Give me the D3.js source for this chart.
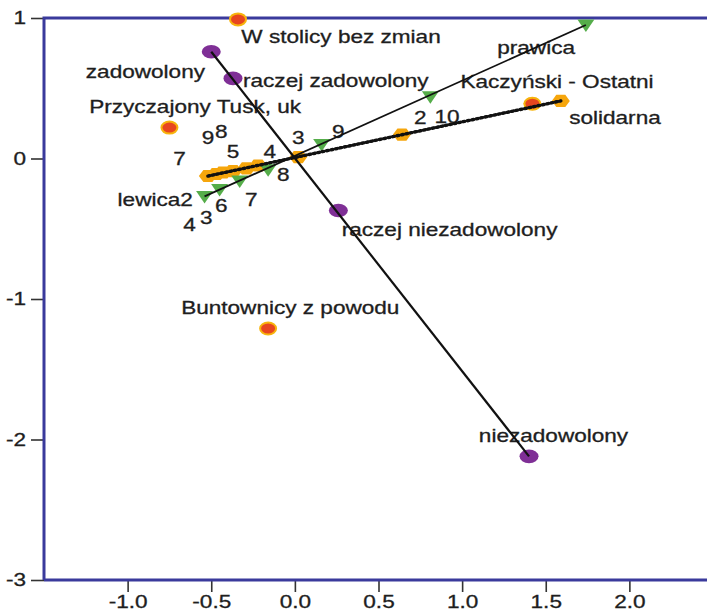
<!DOCTYPE html>
<html>
<head>
<meta charset="utf-8">
<script src="https://cdn.jsdelivr.net/npm/d3@7"></script>
<style>
body { margin: 0; background: #fff; }
.lab { font-family: "Liberation Sans", Arial, sans-serif; font-size: 17.5px; fill: #1e1e1e; stroke: #1e1e1e; stroke-width: 0.3px; }
</style>
</head>
<body>
<div id="chart"></div>
<script>
// satisfaction categories (purple)
var satLabels = ["zadowolony", "raczej zadowolony", "raczej niezadowolony", "niezadowolony"];
var satX = [-0.50, -0.37, 0.26, 1.40];
var satY = [0.76, 0.57, -0.37, -2.12];
var satLabelX = [-1.25, -0.31, 0.28, 1.10];
var satLabelY = [0.62, 0.55, -0.51, -1.975];

// groups (red dots)
var grpLabels = ["W stolicy bez zmian", "Przyczajony Tusk, uk", "Buntownicy z powodu", "Kaczyński - Ostatni"];
var grpX = [-0.34, -0.75, -0.16, 1.42];
var grpY = [0.99, 0.22, -1.21, 0.39];
var grpLabelX = [-0.32, -1.23, -0.68, 0.99];
var grpLabelY = [0.865, 0.37, -1.06, 0.545];

// solidarna scale (orange)
var solX = [-0.52, -0.47, -0.43, -0.37, -0.29, -0.22, 0.02, 0.64, 1.42, 1.59];
var solY = [-0.125, -0.11, -0.10, -0.09, -0.07, -0.05, 0.01, 0.17, 0.39, 0.41];

// lewica - prawica scale (green)
var lpX = [-0.54, -0.45, -0.33, -0.16, 0.16, 0.81, 1.74];
var lpY = [-0.27, -0.22, -0.16, -0.08, 0.10, 0.44, 0.95];

// variable names at line ends
var varLabels = ["solidarna", "prawica", "lewica2"];
var varLabelX = [1.64, 1.21, -1.06];
var varLabelY = [0.29, 0.79, -0.295];

// category numbers
var numLabels = ["9", "8", "7", "5", "4", "3", "9", "2", "10", "8", "7", "6", "3", "4"];
var numX = [-0.52, -0.44, -0.69, -0.37, -0.15, 0.02, 0.26, 0.75, 0.91, -0.07, -0.26, -0.44, -0.53, -0.63];
var numY = [0.145, 0.19, 0.0, 0.05, 0.05, 0.15, 0.19, 0.29, 0.295, -0.12, -0.295, -0.34, -0.42, -0.47];

var xTicks = [-1.0, -0.5, 0.0, 0.5, 1.0, 1.5, 2.0];
var yTicks = [1, 0, -1, -2, -3];

var width = 707, height = 611;
var sx = 1.29; // the original picture is stretched sideways

var svg = d3.select("#chart").append("svg")
  .attr("width", width)
  .attr("height", height);

var x = d3.scaleLinear().domain([-1.5, 2.5]).range([44, 713]);
var y = d3.scaleLinear().domain([-3, 1]).range([580, 18]);

function zip(xs, ys, ls) {
  return xs.map(function(v, i) { return {x: v, y: ys[i], label: ls ? ls[i] : null}; });
}

// axes
var yAxis = svg.append("g")
  .attr("transform", "translate(" + x(-1.5) + ",0)")
  .call(d3.axisLeft(y).tickValues(yTicks).tickFormat(function(d) { return String(d); })
    .tickSize(13).tickPadding(1));
yAxis.select(".domain").remove();

var xAxis = svg.append("g")
  .attr("transform", "translate(0," + y(-3) + ")")
  .call(d3.axisBottom(x).tickValues(xTicks).tickFormat(function(d) { return d.toFixed(1); })
    .tickSize(12).tickPadding(4));
xAxis.select(".domain").remove();

[yAxis, xAxis].forEach(function(ax) {
  ax.attr("font-family", "'Liberation Sans', Arial, sans-serif").attr("font-size", 17.5);
  ax.selectAll("line").attr("stroke", "#333").attr("stroke-width", 1.6);
  ax.selectAll("text").attr("fill", "#1e1e1e")
    .attr("stroke", "#1e1e1e").attr("stroke-width", 0.3)
    .attr("transform", "scale(" + sx + ",1)");
});

// frame
var frame = svg.append("g").attr("stroke", "#3a3a9c").attr("stroke-width", 3).attr("fill", "none");
frame.append("path").attr("d", "M" + x(-1.5) + "," + y(-3) + "V" + y(1) + "H" + width);
frame.append("path").attr("d", "M" + x(-1.5) + "," + y(-3) + "H" + width);

// markers
var hexPath = d3.range(6).map(function(i) {
  var a = i * Math.PI / 3;
  return [9 * Math.cos(a), 7 * Math.sin(a)];
});
svg.selectAll(".sol")
  .data(zip(solX, solY))
  .enter().append("path")
  .attr("d", "M" + hexPath.join("L") + "Z")
  .attr("transform", function(d) { return "translate(" + x(d.x) + "," + y(d.y) + ")"; })
  .attr("fill", "#f6a60c");

svg.selectAll(".lp")
  .data(zip(lpX, lpY))
  .enter().append("path")
  .attr("d", "M-8.5,-5.5L8.5,-5.5L0,7Z")
  .attr("transform", function(d) { return "translate(" + x(d.x) + "," + y(d.y) + ")"; })
  .attr("fill", "#55ad4a");

svg.selectAll(".grp")
  .data(zip(grpX, grpY))
  .enter().append("ellipse")
  .attr("cx", function(d) { return x(d.x); })
  .attr("cy", function(d) { return y(d.y); })
  .attr("rx", 8)
  .attr("ry", 6)
  .attr("fill", "#e8461f")
  .attr("stroke", "#f7b40d")
  .attr("stroke-width", 2);

svg.selectAll(".sat")
  .data(zip(satX, satY))
  .enter().append("ellipse")
  .attr("cx", function(d) { return x(d.x); })
  .attr("cy", function(d) { return y(d.y); })
  .attr("rx", 9.5)
  .attr("ry", 6.8)
  .attr("fill", "#7f2f96");

// labels
function addLabels(data) {
  svg.append("g").selectAll("text")
    .data(data)
    .enter().append("text")
    .attr("class", "lab")
    .attr("transform", function(d) { return "translate(" + x(d.x) + "," + y(d.y) + ") scale(" + sx + ",1)"; })
    .attr("dy", "0.35em")
    .attr("text-anchor", function(d) { return d.anchor; })
    .text(function(d) { return d.label; });
}
var named = zip(satLabelX, satLabelY, satLabels)
  .concat(zip(grpLabelX, grpLabelY, grpLabels))
  .concat(zip(varLabelX, varLabelY, varLabels));
named.forEach(function(d) { d.anchor = "start"; });
var nums = zip(numX, numY, numLabels);
nums.forEach(function(d) { d.anchor = "middle"; });
addLabels(named);
addLabels(nums);

// vectors through the category points
var line = d3.line().x(function(d) { return x(d[0]); }).y(function(d) { return y(d[1]); });
function ends(xs, ys) {
  return [[xs[0], ys[0]], [xs[xs.length - 1], ys[ys.length - 1]]];
}
svg.append("path").attr("d", line(ends(satX, satY)))
  .attr("stroke", "#111").attr("stroke-width", 2.2).attr("fill", "none");
svg.append("path").attr("d", line(ends(lpX, lpY)))
  .attr("stroke", "#111").attr("stroke-width", 1.8).attr("fill", "none");
svg.append("path").attr("d", line(ends(solX, solY)))
  .attr("stroke", "#111").attr("stroke-width", 2.2).attr("fill", "none");
svg.append("path").attr("d", line(ends(solX, solY)))
  .attr("stroke", "#111").attr("stroke-width", 3.4).attr("fill", "none")
  .attr("stroke-dasharray", "1.5,3").attr("stroke-linecap", "round");
</script>
</body>
</html>
